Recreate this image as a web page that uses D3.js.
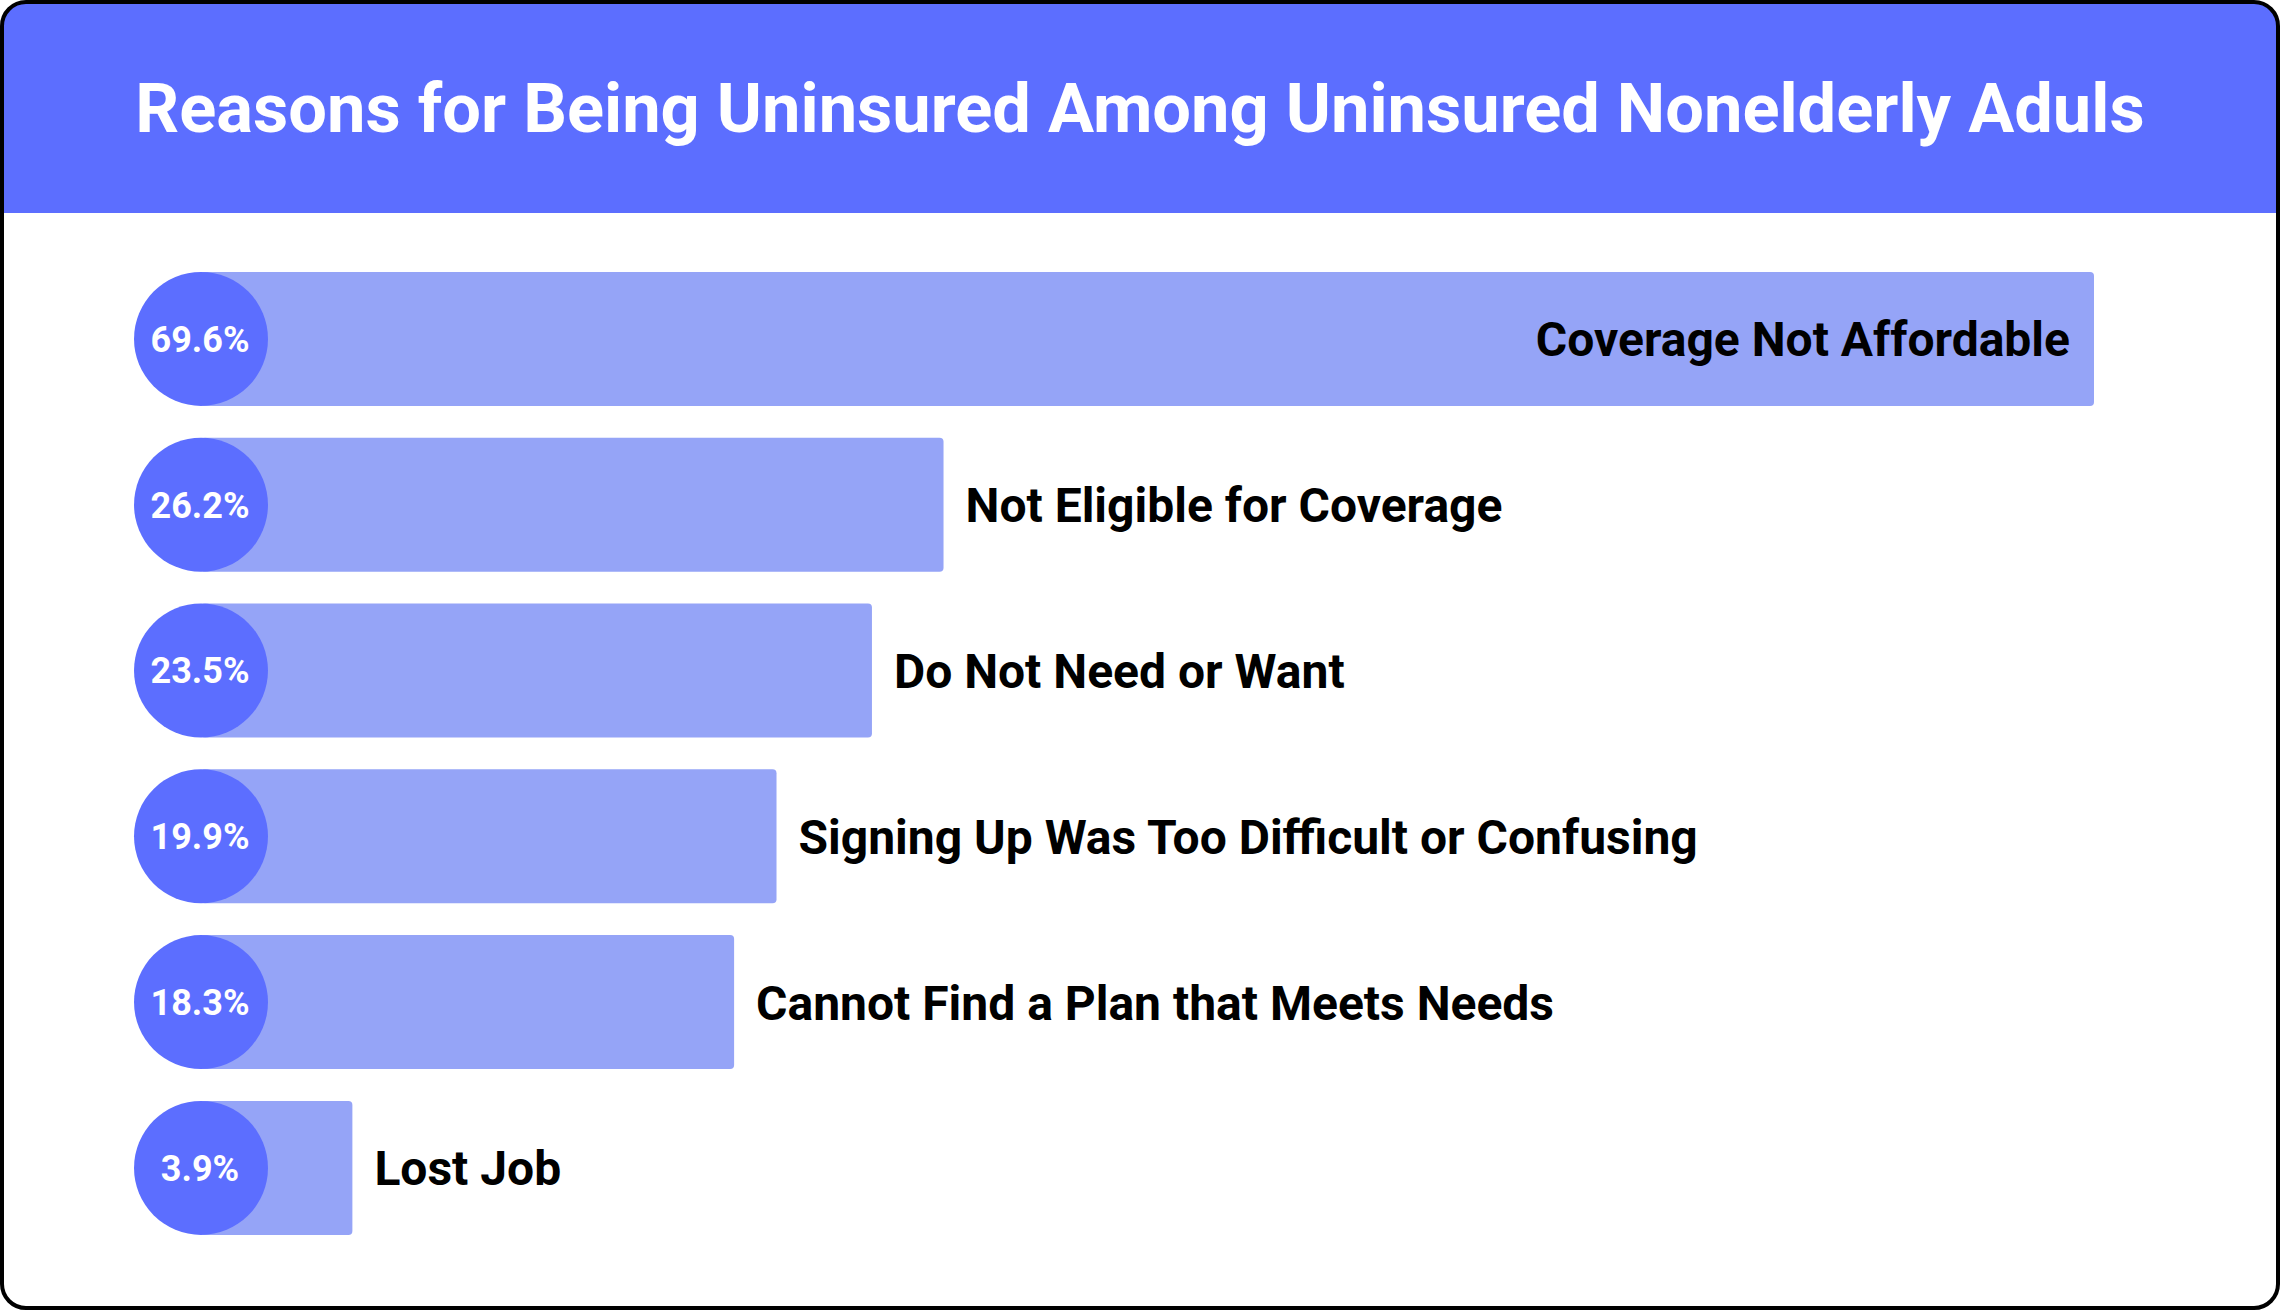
<!DOCTYPE html>
<html>
<head>
<meta charset="utf-8">
<script src="https://cdn.jsdelivr.net/npm/d3@7"></script>
<style>
  html, body { margin: 0; padding: 0; background: #fff; }
  svg { display: block; }
</style>
</head>
<body>
<div id="chart"></div>
<script>
// chart data
const chartTitle = 'Reasons for Being Uninsured Among Uninsured Nonelderly Aduls';
const reasons = [
  'Coverage Not Affordable',
  'Not Eligible for Coverage',
  'Do Not Need or Want',
  'Signing Up Was Too Difficult or Confusing',
  'Cannot Find a Plan that Meets Needs',
  'Lost Job'
];
const shares = [69.6, 26.2, 23.5, 19.9, 18.3, 3.9];

const width = 2280,
  height = 1310,
  headerH = 213,
  blue = '#5c6eff',
  lightBlue = '#95a4f7',
  font = 'Roboto, "Noto Sans", sans-serif';

const rows = reasons.map((r, i) => ({ reason: r, value: shares[i] }));

const svg = d3
  .select('#chart')
  .append('svg')
  .attr('width', width)
  .attr('height', height);

// card clip so the header follows the rounded corners
svg
  .append('clipPath')
  .attr('id', 'card')
  .append('rect')
  .attr('x', 2)
  .attr('y', 2)
  .attr('width', width - 4)
  .attr('height', height - 4)
  .attr('rx', 24);

const card = svg.append('g').attr('clip-path', 'url(#card)');

card
  .append('rect')
  .attr('width', width)
  .attr('height', height)
  .attr('fill', '#fff');

card
  .append('rect')
  .attr('width', width)
  .attr('height', headerH)
  .attr('fill', blue);

card
  .append('text')
  .attr('x', width / 2)
  .attr('y', headerH / 2 + 2)
  .attr('text-anchor', 'middle')
  .attr('dominant-baseline', 'central')
  .attr('fill', '#fff')
  .style('font-family', font)
  .style('font-weight', 700)
  .style('font-size', '68.6px')
  .text(chartTitle);

const y = d3
  .scaleBand()
  .domain(reasons)
  .range([256, 256 + 6 * 165.8])
  .paddingInner(0.192)
  .paddingOuter(0.096);

const x = d3
  .scaleLinear()
  .domain([0, d3.max(shares)])
  .range([249, 2094]);

const r = y.bandwidth() / 2;
const cx = 201;

const row = card
  .append('g')
  .selectAll('g')
  .data(rows)
  .enter()
  .append('g')
  .attr('transform', d => 'translate(0,' + y(d.reason) + ')');

row
  .append('rect')
  .attr('x', cx)
  .attr('y', 0)
  .attr('width', d => x(d.value) - cx)
  .attr('height', y.bandwidth())
  .attr('rx', 4)
  .attr('fill', lightBlue);

row
  .append('circle')
  .attr('cx', cx)
  .attr('cy', r)
  .attr('r', r)
  .attr('fill', blue);

row
  .append('text')
  .attr('x', cx - 1)
  .attr('y', r + 1)
  .attr('text-anchor', 'middle')
  .attr('dominant-baseline', 'central')
  .attr('fill', '#fff')
  .style('font-family', font)
  .style('font-weight', 700)
  .style('font-size', '36px')
  .text(d => d.value.toFixed(1) + '%');

row
  .append('text')
  .attr('y', r + 1)
  .attr('dominant-baseline', 'central')
  .attr('fill', '#000')
  .style('font-family', font)
  .style('font-weight', 700)
  .style('font-size', '48px')
  .text(d => d.reason)
  .each(function (d) {
    const t = d3.select(this);
    const len = this.getComputedTextLength();
    const end = x(d.value);
    // put the label inside the bar when it would run off the card
    if (end + 22 + len > width - 40) {
      t.attr('x', end - 24).attr('text-anchor', 'end');
    } else {
      t.attr('x', end + 22).attr('text-anchor', 'start');
    }
  });

// card border
svg
  .append('rect')
  .attr('x', 2)
  .attr('y', 2)
  .attr('width', width - 4)
  .attr('height', height - 4)
  .attr('rx', 24)
  .attr('fill', 'none')
  .attr('stroke', '#000')
  .attr('stroke-width', 4);
</script>
</body>
</html>
